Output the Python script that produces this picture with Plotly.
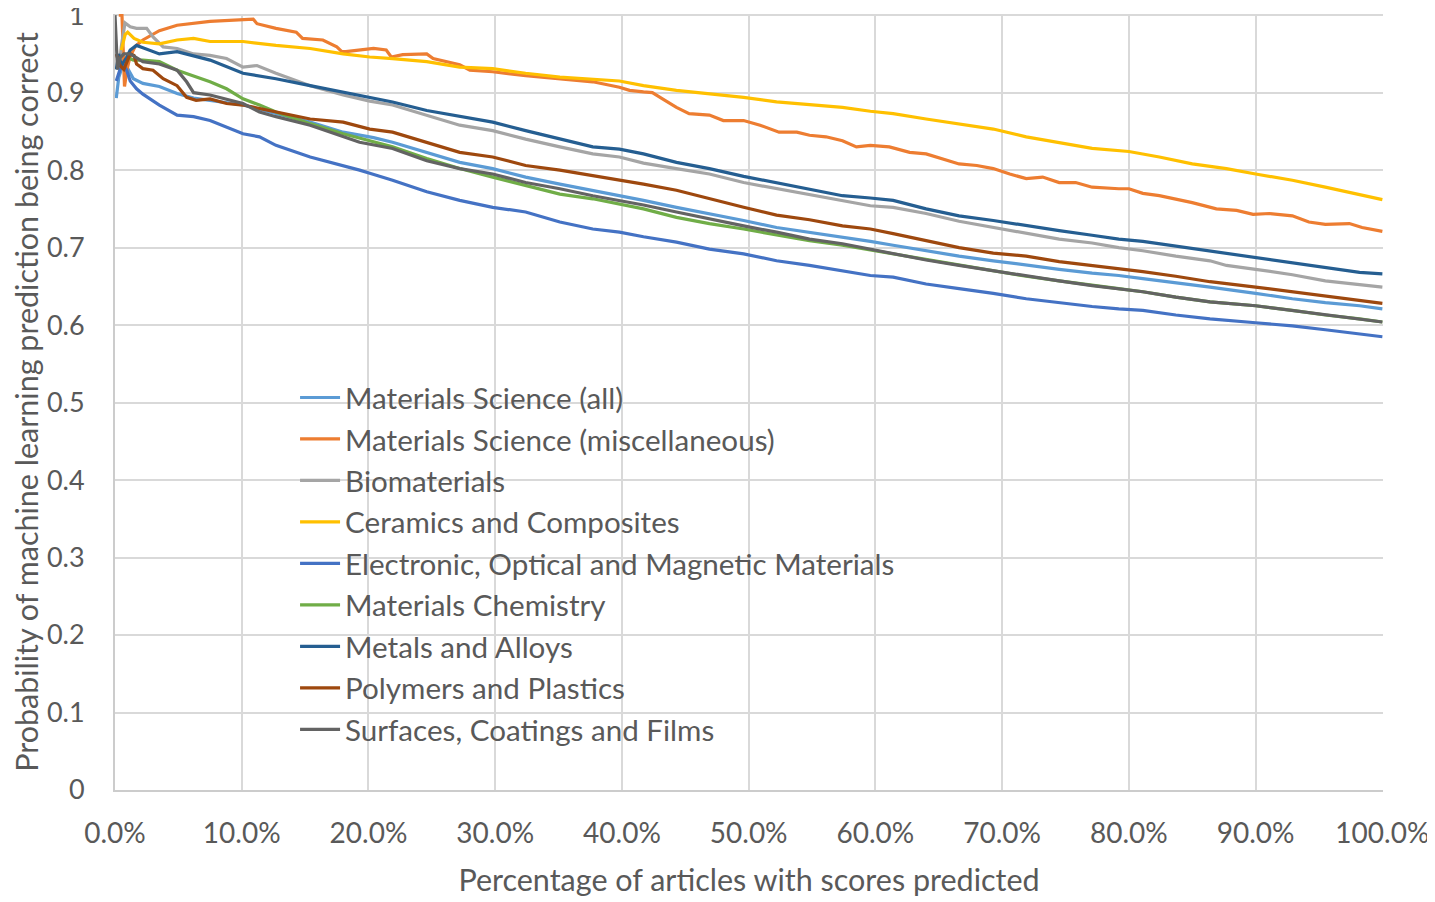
import plotly.graph_objects as go

# ---------------- data (x = % of articles with scores predicted, y = probability) ----------------
names = [
    "Materials Science (all)",
    "Materials Science (miscellaneous)",
    "Biomaterials",
    "Ceramics and Composites",
    "Electronic, Optical and Magnetic Materials",
    "Materials Chemistry",
    "Metals and Alloys",
    "Polymers and Plastics",
    "Surfaces, Coatings and Films",
]
colors = ["#5B9BD5", "#ED7D31", "#A5A5A5", "#FFC000", "#4472C4",
          "#70AD47", "#255E91", "#9E480E", "#636363"]

ms_all_x = [0.1, 0.3, 0.7, 1.2, 1.45, 2.2, 3.5, 4.9, 6.2, 7.5, 10.1, 12.7, 15.4, 18.0, 20.4, 21.9, 24.6,
            27.2, 29.8, 32.4, 35.1, 37.7, 39.8, 41.7, 44.3, 46.9, 49.6, 52.2, 54.8, 57.4, 59.6, 61.4, 64.0,
            66.6, 69.3, 71.9, 74.5, 77.1, 79.2, 81.1, 83.7, 86.4, 90.0, 92.9, 95.5, 98.2, 100]
ms_all_y = [0.893, 0.92, 0.94, 0.925, 0.918, 0.912, 0.908, 0.899, 0.893, 0.89, 0.884, 0.873, 0.862, 0.849,
            0.842, 0.836, 0.823, 0.81, 0.802, 0.791, 0.782, 0.774, 0.767, 0.761, 0.752, 0.744, 0.735, 0.726,
            0.72, 0.713, 0.708, 0.703, 0.696, 0.689, 0.683, 0.677, 0.672, 0.667, 0.664, 0.66, 0.655, 0.649,
            0.641, 0.634, 0.629, 0.625, 0.621]

misc_x = [0.3, 0.55, 0.75, 0.95, 1.2, 1.6, 2.2, 3.5, 4.9, 7.5, 10.9, 11.2, 12.7, 14.3, 14.8, 16.4, 17.5,
          17.9, 18.2, 20.4, 21.4, 21.8, 22.7, 24.6, 25.1, 26.1, 27.2, 28.0, 29.8, 32.4, 35.1, 37.7, 39.8,
          40.6, 41.7, 42.4, 43.2, 44.3, 45.3, 46.9, 48.0, 49.6, 50.9, 52.4, 53.8, 54.8, 56.1, 57.4, 58.5,
          59.6, 61.1, 62.7, 64.0, 65.3, 66.6, 68.0, 69.3, 70.6, 71.9, 73.2, 74.5, 75.8, 77.1, 79.2, 80.0,
          81.1, 82.4, 85.0, 86.9, 88.5, 89.8, 91.1, 92.9, 94.2, 95.5, 97.4, 98.4, 100]
misc_y = [1.0, 1.0, 0.908, 0.93, 0.947, 0.96, 0.968, 0.98, 0.987, 0.992, 0.995, 0.989, 0.983, 0.978, 0.97,
          0.968, 0.959, 0.953, 0.953, 0.957, 0.955, 0.946, 0.949, 0.95, 0.944, 0.94, 0.936, 0.929, 0.927,
          0.922, 0.918, 0.914, 0.907, 0.903, 0.901, 0.9, 0.892, 0.881, 0.873, 0.871, 0.864, 0.864, 0.858,
          0.849, 0.849, 0.845, 0.843, 0.838, 0.83, 0.832, 0.83, 0.823, 0.821, 0.815, 0.808, 0.806, 0.802,
          0.795, 0.789, 0.791, 0.784, 0.784, 0.778, 0.776, 0.776, 0.77, 0.767, 0.758, 0.75, 0.748, 0.743,
          0.744, 0.741, 0.733, 0.73, 0.731, 0.726, 0.721]

bio_x = [0.3, 0.5, 0.79, 1.2, 1.7, 2.5, 3.0, 3.8, 4.9, 6.2, 7.5, 8.8, 10.1, 11.2, 12.7, 15.4, 18.0, 20.1,
         21.9, 24.6, 27.2, 29.8, 32.4, 35.1, 37.7, 39.8, 41.7, 44.3, 46.9, 49.6, 52.2, 54.8, 57.4, 59.6,
         61.4, 64.0, 66.6, 69.3, 71.9, 74.5, 77.1, 79.2, 81.1, 83.7, 86.4, 87.7, 90.0, 92.9, 95.5, 98.2, 100]
bio_y = [0.93, 0.96, 0.99, 0.985, 0.983, 0.983, 0.972, 0.959, 0.957, 0.95, 0.948, 0.944, 0.933, 0.935,
         0.925, 0.909, 0.897, 0.889, 0.884, 0.871, 0.858, 0.851, 0.84, 0.83, 0.821, 0.817, 0.809, 0.802,
         0.795, 0.784, 0.776, 0.768, 0.761, 0.754, 0.752, 0.744, 0.734, 0.726, 0.718, 0.711, 0.706, 0.7,
         0.696, 0.689, 0.683, 0.677, 0.672, 0.665, 0.657, 0.652, 0.649]

cer_x = [0.5, 0.8, 1.0, 1.5, 2.2, 3.5, 4.9, 6.2, 7.5, 10.1, 12.7, 15.4, 18.0, 20.1, 21.9, 24.6, 27.2, 29.8,
         32.4, 35.1, 39.8, 41.7, 44.3, 46.9, 49.6, 52.2, 54.8, 57.4, 59.6, 61.4, 64.0, 66.6, 69.3, 71.9,
         74.5, 77.1, 80.0, 82.4, 85.0, 87.7, 90.0, 92.9, 95.5, 98.2, 100]
cer_y = [0.955, 0.975, 0.978, 0.97, 0.965, 0.963, 0.968, 0.97, 0.966, 0.966, 0.961, 0.957, 0.95, 0.946,
         0.944, 0.94, 0.933, 0.931, 0.925, 0.92, 0.915, 0.909, 0.903, 0.899, 0.894, 0.888, 0.884, 0.881,
         0.876, 0.873, 0.866, 0.86, 0.853, 0.843, 0.836, 0.828, 0.824, 0.817, 0.808, 0.802, 0.795, 0.787,
         0.778, 0.769, 0.762]

elec_x = [0.1, 0.4, 0.66, 0.9, 1.2, 1.7, 2.2, 3.5, 4.9, 6.2, 7.5, 8.8, 10.1, 11.4, 12.7, 15.4, 18.0, 19.3,
          20.1, 21.9, 24.6, 27.2, 29.8, 32.4, 35.1, 37.7, 39.8, 41.7, 44.3, 46.9, 49.6, 52.2, 54.8, 57.4,
          59.6, 61.4, 64.0, 66.6, 69.3, 71.9, 74.5, 77.1, 79.2, 81.1, 83.7, 86.4, 90.0, 92.9, 95.5, 98.2, 100]
elec_y = [0.915, 0.93, 0.935, 0.93, 0.915, 0.905, 0.898, 0.884, 0.871, 0.869, 0.864, 0.856, 0.847, 0.843,
          0.832, 0.817, 0.806, 0.80, 0.796, 0.787, 0.772, 0.761, 0.752, 0.746, 0.733, 0.724, 0.72, 0.714,
          0.707, 0.698, 0.692, 0.683, 0.677, 0.67, 0.664, 0.662, 0.653, 0.647, 0.641, 0.634, 0.629, 0.624,
          0.621, 0.619, 0.613, 0.608, 0.603, 0.599, 0.594, 0.588, 0.585]

chem_x = [1.0, 1.45, 2.2, 3.5, 4.9, 6.2, 7.5, 8.8, 10.1, 11.4, 12.7, 15.4, 18.0, 20.1, 21.9, 24.6, 27.2,
          29.8, 32.4, 35.1, 37.7, 39.8, 41.7, 44.3, 46.9, 49.6, 52.2, 54.8, 57.4, 59.6, 61.4, 64.0, 66.6,
          69.3, 71.9, 74.5, 77.1, 79.2, 81.1, 83.7, 86.4, 90.0, 92.9, 95.5, 98.2, 100]
chem_y = [0.945, 0.942, 0.942, 0.94, 0.929, 0.922, 0.914, 0.905, 0.892, 0.884, 0.875, 0.86, 0.847, 0.838,
          0.83, 0.815, 0.802, 0.791, 0.78, 0.769, 0.763, 0.756, 0.75, 0.739, 0.731, 0.724, 0.716, 0.709,
          0.703, 0.697, 0.692, 0.684, 0.677, 0.67, 0.663, 0.657, 0.651, 0.647, 0.643, 0.636, 0.63, 0.625,
          0.619, 0.613, 0.608, 0.604]

met_x = [0.1, 0.3, 0.5, 0.9, 1.2, 1.7, 2.2, 3.5, 4.9, 6.2, 7.5, 10.1, 12.7, 15.4, 18.0, 20.1, 21.9, 24.6,
         27.2, 29.8, 32.4, 35.1, 37.7, 39.8, 41.7, 44.3, 46.9, 49.6, 52.2, 54.8, 57.4, 59.6, 61.4, 64.0,
         66.6, 69.3, 71.9, 74.5, 77.1, 79.2, 81.1, 83.7, 86.4, 90.0, 92.9, 95.5, 98.2, 100]
met_y = [0.93, 0.95, 0.935, 0.945, 0.955, 0.961, 0.958, 0.95, 0.953, 0.948, 0.942, 0.925, 0.918, 0.909,
         0.901, 0.894, 0.888, 0.877, 0.869, 0.862, 0.851, 0.84, 0.83, 0.827, 0.821, 0.81, 0.802, 0.792,
         0.784, 0.776, 0.767, 0.764, 0.761, 0.75, 0.741, 0.735, 0.728, 0.722, 0.716, 0.711, 0.708, 0.702,
         0.695, 0.687, 0.68, 0.674, 0.668, 0.666]

poly_x = [0.1, 0.4, 0.7, 1.2, 1.5, 1.7, 2.2, 3.0, 3.8, 4.9, 5.65, 6.4, 7.5, 8.8, 10.1, 12.7, 15.4, 18.0,
          20.1, 21.9, 24.6, 27.2, 29.8, 32.4, 35.1, 37.7, 39.8, 41.7, 44.3, 46.9, 49.6, 52.2, 54.8, 57.4,
          59.6, 61.4, 64.0, 66.6, 69.3, 71.9, 74.5, 77.1, 79.2, 81.1, 83.7, 86.4, 90.0, 92.9, 95.5, 98.2, 100]
poly_y = [0.95, 0.935, 0.93, 0.95, 0.948, 0.937, 0.931, 0.929, 0.918, 0.909, 0.894, 0.89, 0.892, 0.886,
          0.884, 0.875, 0.866, 0.862, 0.853, 0.849, 0.836, 0.823, 0.817, 0.806, 0.8, 0.793, 0.788, 0.782,
          0.774, 0.763, 0.752, 0.742, 0.736, 0.728, 0.724, 0.718, 0.709, 0.7, 0.693, 0.689, 0.682, 0.677,
          0.672, 0.669, 0.663, 0.656, 0.649, 0.643, 0.637, 0.631, 0.628]

surf_x = [0.0, 0.1, 0.2, 0.4, 0.7, 1.2, 1.7, 2.2, 3.5, 4.9, 5.65, 6.2, 7.5, 8.8, 10.1, 11.4, 12.7, 15.4,
          18.0, 19.3, 21.9, 24.6, 27.2, 29.8, 32.4, 35.1, 37.7, 39.8, 41.7, 44.3, 46.9, 49.6, 52.2, 54.8,
          57.4, 59.6, 61.4, 64.0, 66.6, 69.3, 71.9, 74.5, 77.1, 79.2, 81.1, 83.7, 86.4, 90.0, 92.9, 95.5,
          98.2, 100]
surf_y = [1.0, 0.97, 0.93, 0.945, 0.95, 0.95, 0.945, 0.94, 0.937, 0.929, 0.914, 0.9, 0.897, 0.892, 0.886,
          0.875, 0.869, 0.858, 0.843, 0.836, 0.828, 0.812, 0.802, 0.795, 0.784, 0.776, 0.767, 0.761, 0.755,
          0.746, 0.737, 0.728, 0.72, 0.711, 0.705, 0.698, 0.692, 0.684, 0.677, 0.67, 0.663, 0.657, 0.651,
          0.647, 0.643, 0.636, 0.63, 0.625, 0.619, 0.613, 0.608, 0.604]

series_x = [ms_all_x, misc_x, bio_x, cer_x, elec_x, chem_x, met_x, poly_x, surf_x]
series_y = [ms_all_y, misc_y, bio_y, cer_y, elec_y, chem_y, met_y, poly_y, surf_y]

x_tickvals = [0, 10, 20, 30, 40, 50, 60, 70, 80, 90, 100]
x_ticktext = ["0.0%", "10.0%", "20.0%", "30.0%", "40.0%", "50.0%", "60.0%", "70.0%", "80.0%", "90.0%", "100.0%"]
y_tickvals = [0, 0.1, 0.2, 0.3, 0.4, 0.5, 0.6, 0.7, 0.8, 0.9, 1.0]
y_ticktext = ["0", "0.1", "0.2", "0.3", "0.4", "0.5", "0.6", "0.7", "0.8", "0.9", "1"]

FONT = "Lato, Calibri, Carlito, sans-serif"
TXT = "#595959"
GRID = "#d9d9d9"
AXIS = "#cccccc"

fig = go.Figure()
for i, (nm, xs, ys, c) in enumerate(zip(names, series_x, series_y, colors)):
    fig.add_trace(go.Scatter(
        x=xs, y=ys, mode="lines", name=nm,
        line=dict(color=c, width=3.2),
        legendgroup=f"g{i}",
    ))

# white legend background panel (hides gridlines behind legend, as in the original)
fig.add_shape(type="rect", xref="paper", yref="paper",
              x0=0.0789, x1=0.686, y0=0.0515, y1=0.531,
              fillcolor="white", line=dict(width=0), layer="between")

# the page adds an 8px body margin, so the figure is sized to the remaining window
fig.update_layout(
    width=1427, height=894,
    margin=dict(l=107, r=52, t=6, b=112),
    paper_bgcolor="white", plot_bgcolor="white",
    font=dict(family=FONT, color=TXT, size=28),
    showlegend=True,
    legend=dict(
        x=0.142, y=0.539, xanchor="left", yanchor="top",
        bgcolor="rgba(0,0,0,0)", font=dict(size=29.6, color=TXT, family=FONT),
        tracegroupgap=0, itemwidth=40,
    ),
    xaxis=dict(
        range=[0, 100.05], tickvals=x_tickvals, ticktext=x_ticktext,
        showgrid=True, gridcolor=GRID, gridwidth=2,
        showline=True, linecolor=AXIS, linewidth=2,
        zeroline=False, ticks="", ticklabelstandoff=17, automargin=False,
        ticklabeloverflow="allow",
        tickfont=dict(size=28, color=TXT, family=FONT),
        title=dict(text="Percentage of articles with scores predicted",
                   font=dict(size=30.5, color=TXT, family=FONT), standoff=22),
    ),
    yaxis=dict(
        range=[0, 1.0015], tickvals=y_tickvals, ticktext=y_ticktext,
        showgrid=True, gridcolor=GRID, gridwidth=2,
        showline=True, linecolor=AXIS, linewidth=2,
        zeroline=False, ticks="", ticklabelstandoff=23, automargin=False,
        ticklabeloverflow="allow",
        tickfont=dict(size=27, color=TXT, family=FONT),
        title=dict(text="Probability of machine learning prediction being correct",
                   font=dict(size=30.5, color=TXT, family=FONT), standoff=3),
    ),
)

fig.write_html("out.html")
